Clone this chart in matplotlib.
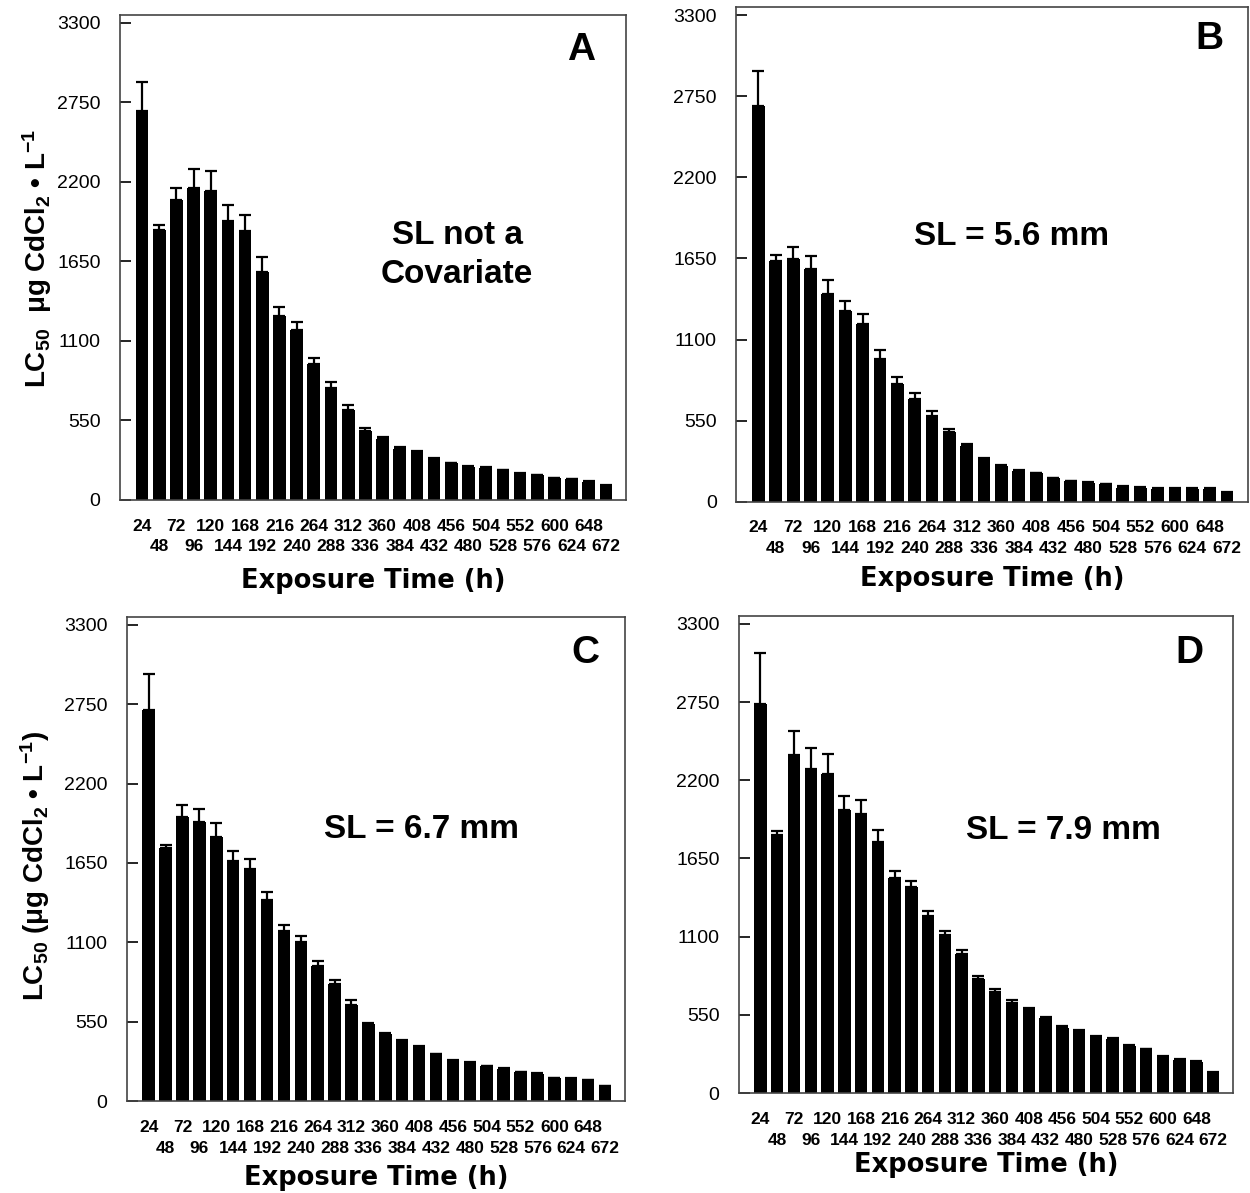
import matplotlib
matplotlib.use("Agg")
import matplotlib.pyplot as plt
import numpy as np

plt.rcParams["font.family"] = ["Liberation Sans", "DejaVu Sans"]
plt.rcParams["mathtext.fontset"] = "custom"
plt.rcParams["mathtext.rm"] = "Liberation Sans:bold"
plt.rcParams["mathtext.it"] = "Liberation Sans:bold"
plt.rcParams["mathtext.bf"] = "Liberation Sans:bold"

# exposure times (h)
hours = [24, 48, 72, 96, 120, 144, 168, 192, 216, 240, 264, 288, 312, 336,
         360, 384, 408, 432, 456, 480, 504, 528, 552, 576, 600, 624, 648, 672]

# LC50 values
lc50_A = [2690, 1864, 2076, 2161, 2140, 1928, 1862, 1578, 1274, 1176, 943, 776, 625, 479,
          424, 355, 334, 286, 252, 230, 222, 204, 180, 170, 148, 143, 127, 98]
err_A = [200, 40, 85, 125, 135, 109, 111, 100, 60, 53, 40, 37, 32, 19,
         8, 10, 6, 5, 4, 4, 4, 4, 3, 3, 3, 3, 3, 3]

lc50_B = [2682, 1631, 1644, 1579, 1410, 1293, 1202, 968, 800, 696, 584, 475, 379, 286,
          241, 208, 192, 158, 138, 127, 119, 96, 91, 86, 83, 86, 86, 60]
err_B = [239, 44, 85, 90, 91, 70, 73, 58, 49, 44, 29, 21, 12, 8,
         6, 5, 5, 5, 4, 4, 4, 8, 8, 8, 8, 8, 8, 8]

lc50_C = [2712, 1757, 1972, 1933, 1828, 1661, 1608, 1391, 1177, 1104, 939, 808, 669, 533,
          468, 418, 374, 324, 280, 264, 241, 225, 199, 188, 160, 154, 144, 102]
err_C = [248, 19, 81, 94, 99, 73, 68, 58, 44, 41, 29, 34, 32, 8,
         6, 5, 5, 4, 4, 4, 4, 4, 4, 4, 3, 3, 3, 3]

lc50_D = [2734, 1813, 2377, 2276, 2244, 1989, 1962, 1766, 1510, 1447, 1244, 1111, 979, 800,
          713, 633, 588, 526, 455, 428, 394, 383, 330, 308, 255, 234, 221, 144]
err_D = [361, 27, 173, 149, 144, 101, 101, 85, 53, 47, 38, 30, 26, 22,
         21, 21, 13, 8, 13, 13, 6, 6, 5, 5, 5, 5, 5, 4]

yticks = [0, 550, 1100, 1650, 2200, 2750, 3300]

# letter, values, errors, note, axes rect, ylabel, note xy, letter xy, xlabel y, ylabel xy
panels = [
    ("A", lc50_A, err_A, "SL not a\nCovariate", [0.096, 0.581, 0.405, 0.4065],
     r"LC$_{50}$  μg CdCl$_{2}$ • L$^{-1}$", (0.666, 0.505), (0.911, 0.928), -0.14, (-0.130, 0.499)),
    ("B", lc50_B, err_B, "SL = 5.6 mm", [0.589, 0.5795, 0.409, 0.4145],
     None, (0.538, 0.537), (0.926, 0.935), -0.131, None),
    ("C", lc50_C, err_C, "SL = 6.7 mm", [0.1016, 0.0771, 0.3984, 0.4057],
     r"LC$_{50}$ (μg CdCl$_{2}$ • L$^{-1}$)", (0.592, 0.56), (0.92, 0.926), -0.132, (-0.151, 0.486)),
    ("D", lc50_D, err_D, "SL = 7.9 mm", [0.5912, 0.0838, 0.3952, 0.3998],
     None, (0.656, 0.551), (0.911, 0.922), -0.124, None),
]

fig = plt.figure(figsize=(12.5, 11.93), dpi=100)

for letter, vals, errs, note, rect, ylab, note_xy, let_xy, xlab_y, ylab_xy in panels:
    ax = fig.add_axes(rect)
    x = np.arange(len(hours))
    ax.bar(x, vals, width=0.74, color="black", zorder=2)
    ax.errorbar(x, vals, yerr=[np.zeros(len(errs)), errs], fmt="none",
                ecolor="black", elinewidth=1.6, capsize=4.5, capthick=1.6, zorder=3)
    ax.set_xlim(-1.28, 28.18)
    ax.set_ylim(0, 3355)
    ax.set_yticks(yticks)
    ax.set_yticklabels([str(v) for v in yticks], fontsize=14)
    ax.tick_params(axis="y", direction="in", length=8, width=1.2, pad=14)

    # staggered x labels: even ones on the first row, odd ones on the second
    ax.set_xticks(x[::2])
    ax.set_xticklabels([str(h) for h in hours[::2]], fontsize=12.5, fontweight="bold")
    ax.set_xticks(x[1::2], minor=True)
    ax.set_xticklabels([str(h) for h in hours[1::2]], minor=True, fontsize=12.5,
                       fontweight="bold")
    ax.tick_params(axis="x", which="major", length=0, pad=13.5)
    ax.tick_params(axis="x", which="minor", length=0, pad=28.5)

    for s in ax.spines.values():
        s.set_linewidth(1.2)
        s.set_color("#444444")

    ax.set_xlabel("Exposure Time (h)", fontsize=18.5, fontweight="bold",
                  family="DejaVu Sans")
    ax.xaxis.set_label_coords(0.5, xlab_y)
    if ylab:
        ax.set_ylabel(ylab, fontsize=20, fontweight="bold")
        ax.yaxis.set_label_coords(ylab_xy[0], ylab_xy[1])
    ax.text(let_xy[0], let_xy[1], letter, transform=ax.transAxes, ha="center", va="center",
            fontsize=28, fontweight="bold")
    ax.text(note_xy[0], note_xy[1], note, transform=ax.transAxes,
            ha="center", va="center", fontsize=24, fontweight="bold", linespacing=1.35)

fig.savefig("out.png", dpi=100)
